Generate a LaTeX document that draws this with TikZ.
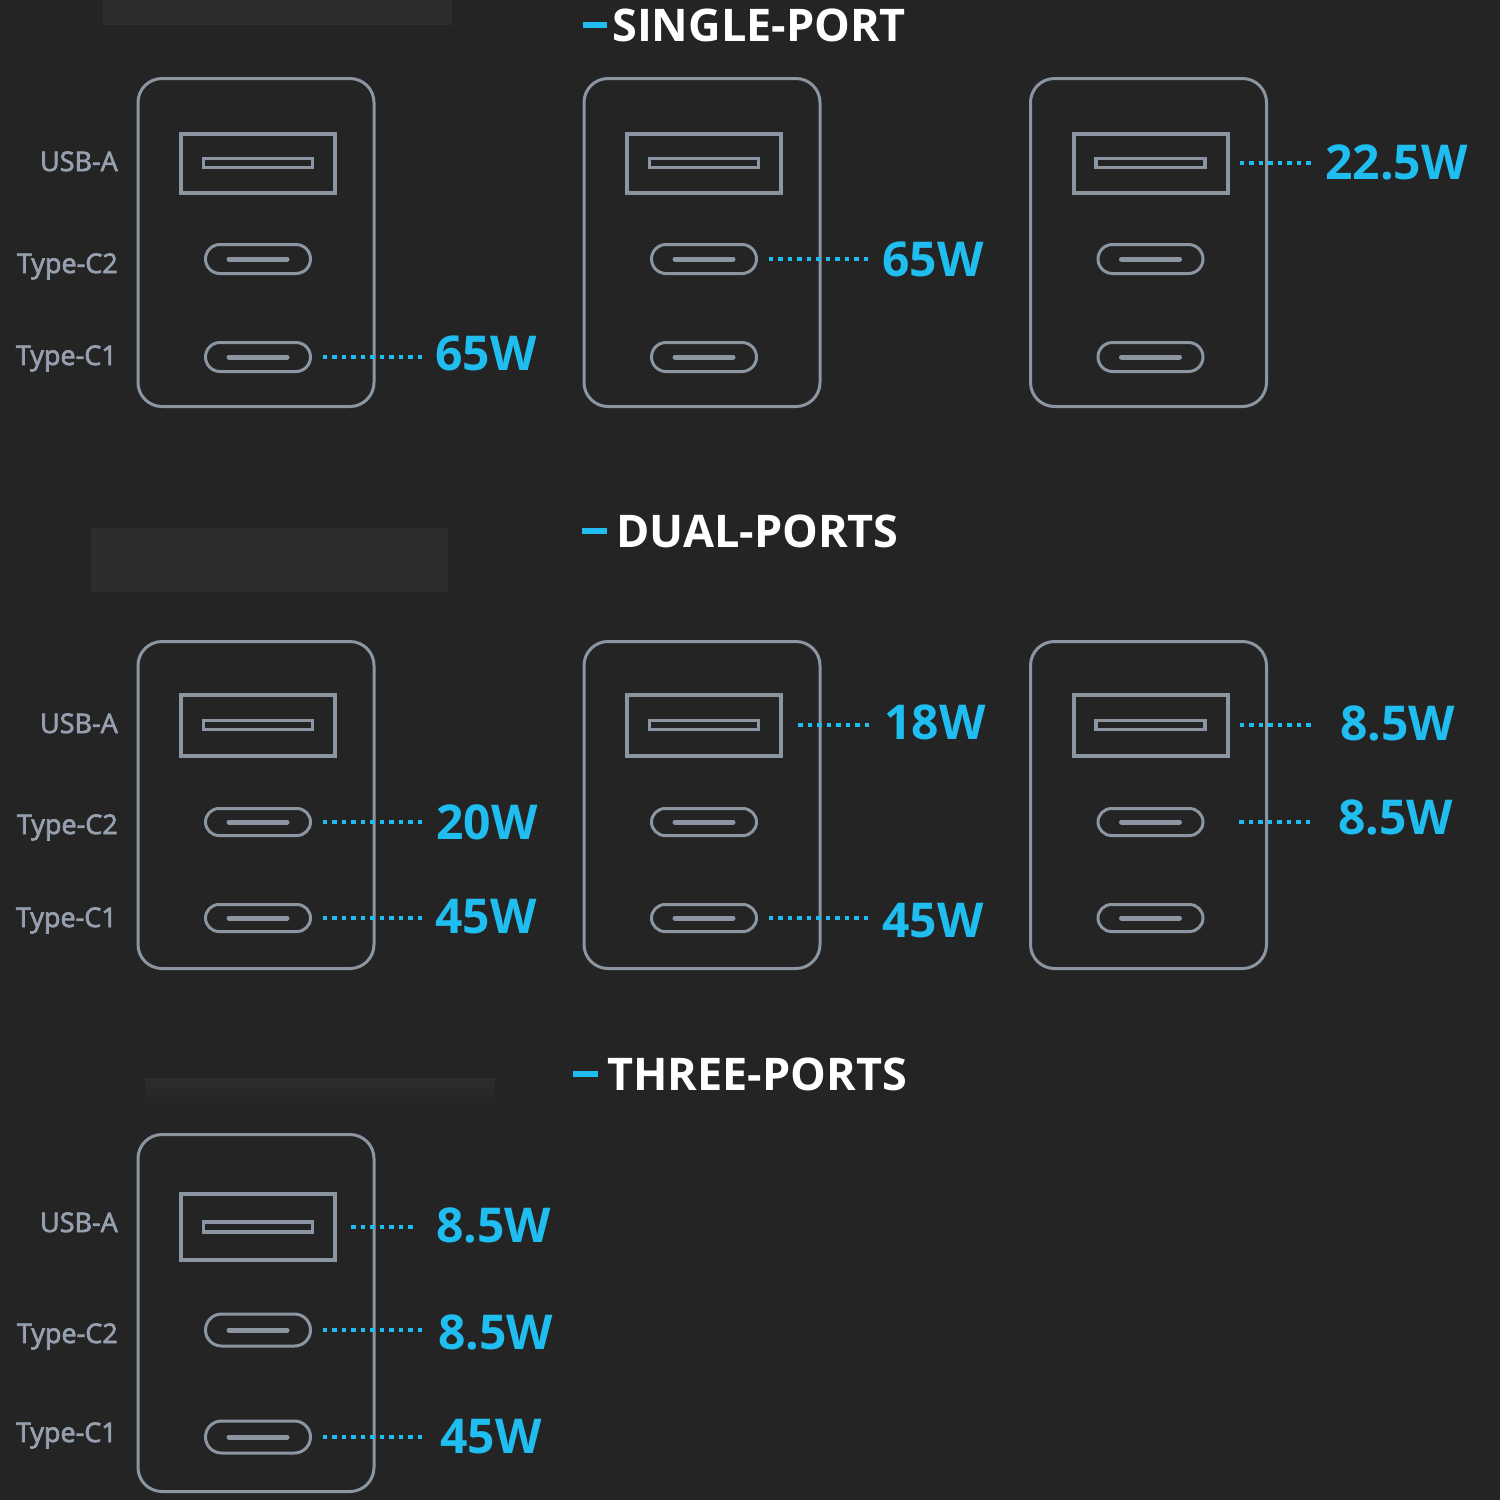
\documentclass[tikz,border=0pt]{standalone}
\usepackage{fontspec}
\setmainfont{Open Sans}
\newfontfamily\labfont[FakeBold=2.5]{Open Sans}
\usetikzlibrary{shapes.misc,calc}
\definecolor{bg}{RGB}{36,36,36}
\definecolor{patch}{RGB}{45,45,45}
\definecolor{strokec}{RGB}{140,149,162}
\definecolor{labc}{RGB}{150,160,175}
\definecolor{cyanw}{RGB}{32,190,240}
\tikzset{
 box/.style={draw=strokec, line width=3pt, rounded corners=24pt, minimum width=236pt, inner sep=0pt, outer sep=0pt},
 usba/.style={draw=strokec, line width=4pt, minimum width=154pt, inner sep=0pt, outer sep=0pt},
 slot/.style={draw=strokec, line width=3.5pt, minimum width=109pt, inner sep=0pt, outer sep=0pt},
 usbc/.style={rounded rectangle, draw=strokec, line width=3pt, minimum width=105pt, inner sep=0pt, outer sep=0pt},
 cbar/.style={strokec, line width=5pt, line cap=round},
 lab/.style={text=labc, font=\labfont\fontsize{27}{30}\selectfont, inner sep=0pt, anchor=base east},
 watt/.style={text=cyanw, font=\fontsize{48}{54}\selectfont\bfseries, inner sep=0pt, anchor=west},
 dots/.style={cyanw, line width=4.5pt, dash pattern=on 4.5pt off 5pt},
 title/.style={text=white, font=\fontsize{45}{50}\selectfont\bfseries, inner sep=0pt, anchor=west},
 tdash/.style={cyanw, line width=6pt},
}
% #1 name, #2 box cx, #3 box cy, #4 box h, #5 yA, #6 yC2, #7 yC1, #8 hA, #9 hC
\newcommand\charger[9]{%
 \node[box, minimum height=#4pt] (#1) at (#2,#3) {};
 \node[usba, minimum height=#8pt] (#1A) at ({#2+2},#5) {};
 \node[slot, minimum height={#8pt*0.15}] (#1As) at (#1A.center) {};
 \node[usbc, minimum height=#9pt] (#1C2) at ({#2+2},#6) {};
 \node[usbc, minimum height=#9pt] (#1C1) at ({#2+2},#7) {};
 \draw[cbar] ($(#1C2.center)+(-29,0)$) -- ($(#1C2.center)+(29,0)$);
 \draw[cbar] ($(#1C1.center)+(-29,0)$) -- ($(#1C1.center)+(29,0)$);
}
% #1 port node, #2 label node, #3 start gap, #4 end gap
\newcommand\conn[4]{%
 \draw[dots] ($(#1.east)+(#3,0)$) -- ($(#1.east -| #2.west)+(-#4,0)$);
}
\begin{document}
\begin{tikzpicture}[x=1pt,y=-1pt]
\useasboundingbox (0,0) rectangle (1500,1500);
\fill[bg] (0,0) rectangle (1500,1500);
% blanked patches
\fill[patch] (103,0) rectangle (452,25);
\fill[patch] (91,528) rectangle (448,592);
\shade[top color=patch, bottom color=bg] (145,1078) rectangle (495,1106);

% titles
\node[title] (t1) at (612,25) {SINGLE-PORT};
\draw[tdash] ($(t1.west)+(-29,0)$) -- ($(t1.west)+(-5,0)$);
\node[title] (t2) at (616,531) {DUAL-PORTS};
\draw[tdash] ($(t2.west)+(-34,0)$) -- ($(t2.west)+(-9,0)$);
\node[title] (t3) at (607,1074) {THREE-PORTS};
\draw[tdash] ($(t3.west)+(-34,0)$) -- ($(t3.west)+(-9,0)$);

% row 1
\charger{a}{256}{242.5}{328}{163}{259}{357}{59}{29}
\charger{b}{702}{242.5}{328}{163}{259}{357}{59}{29}
\charger{c}{1148.5}{242.5}{328}{163}{259}{357}{59}{29}
\node[lab] (aLA) at (118,171) {USB-A};
\node[lab] (aLC2) at (118,273) {Type-C2};
\node[lab] (aLC1) at (117,365) {Type-C1};
\node[watt] (aW1) at (435,353) {65W};
\conn{aC1}{aW1}{12}{10}
\node[watt] (bW2) at (882,259) {65W};
\conn{bC2}{bW2}{12}{12}
\node[watt] (cWA) at (1325,162) {22.5W};
\conn{cA}{cWA}{12}{13}

% row 2
\charger{d}{256}{805}{327}{725}{822}{918}{61}{27}
\charger{e}{702}{805}{327}{725}{822}{918}{61}{27}
\charger{f}{1148.5}{805}{327}{725}{822}{918}{61}{27}
\node[lab] (dLA) at (118,733) {USB-A};
\node[lab] (dLC2) at (118,834) {Type-C2};
\node[lab] (dLC1) at (117,927) {Type-C1};
\node[watt] (dW2) at (436,822) {20W};
\conn{dC2}{dW2}{12}{11}
\node[watt] (dW1) at (435,917) {45W};
\conn{dC1}{dW1}{12}{10}
\node[watt] (eWA) at (884,722) {18W};
\conn{eA}{eWA}{17}{14}
\node[watt] (eW1) at (882,921) {45W};
\conn{eC1}{eW1}{12}{12}
\node[watt] (fWA) at (1340,723) {8.5W};
\conn{fA}{fWA}{12}{28}
\node[watt] (fW2) at (1338,817) {8.5W};
\conn{fC2}{fW2}{36}{26}

% row 3
\charger{g}{256}{1313}{357}{1227}{1330}{1437}{66}{32}
\node[lab] (gLA) at (118,1232) {USB-A};
\node[lab] (gLC2) at (118,1343) {Type-C2};
\node[lab] (gLC1) at (117,1442) {Type-C1};
\node[watt] (gWA) at (436,1225) {8.5W};
\conn{gA}{gWA}{16}{20}
\node[watt] (gW2) at (438,1332) {8.5W};
\conn{gC2}{gW2}{12}{14}
\node[watt] (gW1) at (440,1437) {45W};
\conn{gC1}{gW1}{12}{15}
\end{tikzpicture}
\end{document}
